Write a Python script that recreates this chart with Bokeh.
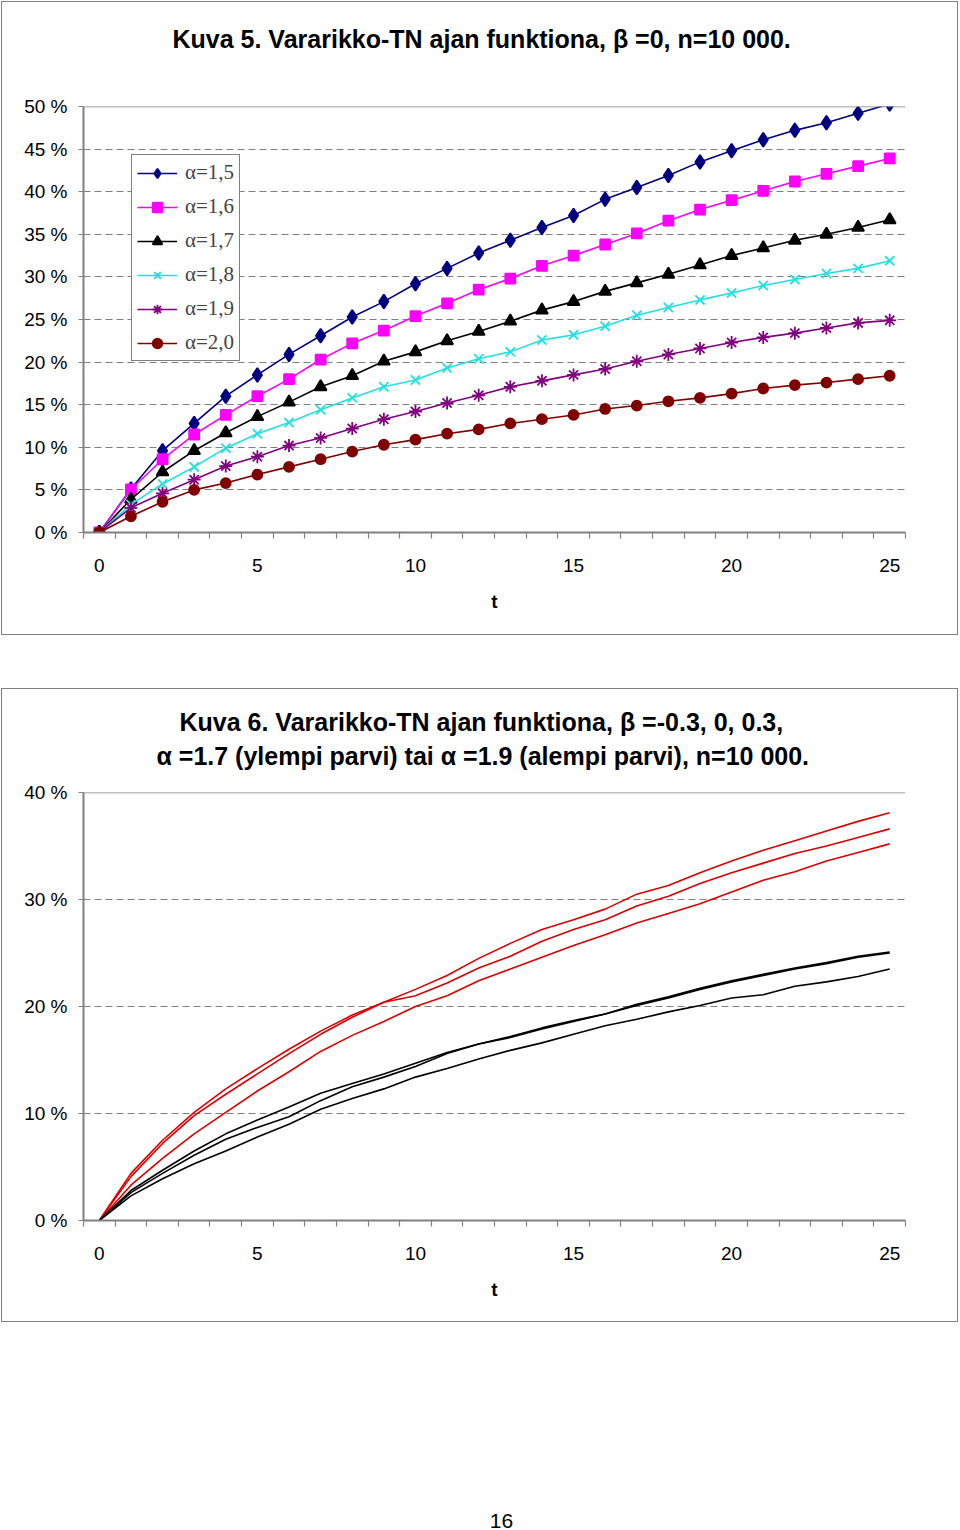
from bokeh.plotting import figure
from bokeh.models import FixedTicker, Span, Title, Div, Spacer
from bokeh.layouts import column, row
from bokeh.embed import file_html
from bokeh.resources import INLINE

# ---------------- data ----------------
t = list(range(26))

# Kuva 5 (percent)
a15 = [0, 5.1, 9.6, 12.8, 16.0, 18.5, 20.9, 23.1, 25.3, 27.1, 29.2, 31.0, 32.8, 34.3,
       35.8, 37.2, 39.1, 40.5, 41.9, 43.5, 44.8, 46.1, 47.2, 48.1, 49.2, 50.3]
a16 = [0, 5.05, 8.6, 11.5, 13.8, 16.0, 18.0, 20.3, 22.2, 23.7, 25.4, 26.9, 28.5, 29.8,
       31.3, 32.5, 33.8, 35.1, 36.6, 37.9, 39.0, 40.1, 41.2, 42.1, 43.0, 43.9]
a17 = [0, 3.9, 7.1, 9.6, 11.7, 13.6, 15.3, 17.1, 18.4, 20.1, 21.2, 22.5, 23.6, 24.8,
       26.1, 27.1, 28.3, 29.3, 30.3, 31.4, 32.5, 33.4, 34.3, 35.0, 35.8, 36.7]
a18 = [0, 3.3, 5.7, 7.7, 9.9, 11.6, 12.9, 14.4, 15.8, 17.1, 17.9, 19.3, 20.4, 21.2,
       22.6, 23.2, 24.2, 25.5, 26.4, 27.3, 28.1, 29.0, 29.7, 30.4, 31.0, 31.9]
a19 = [0, 2.9, 4.6, 6.2, 7.8, 8.9, 10.2, 11.1, 12.2, 13.3, 14.2, 15.2, 16.1, 17.1,
       17.8, 18.5, 19.2, 20.1, 20.9, 21.6, 22.3, 22.9, 23.4, 24.0, 24.6, 24.9]
a20 = [0, 1.9, 3.6, 5.0, 5.8, 6.8, 7.7, 8.6, 9.5, 10.3, 10.9, 11.6, 12.1, 12.8,
       13.3, 13.8, 14.5, 14.9, 15.4, 15.8, 16.3, 16.9, 17.3, 17.6, 18.0, 18.4]
labels5 = ["α=1,5", "α=1,6", "α=1,7", "α=1,8", "α=1,9", "α=2,0"]

# Kuva 6 (percent): alpha=1.7 (upper group), alpha=1.9 (lower group)
red_a = [0, 4.4, 7.5, 10.1, 12.3, 14.2, 16.0, 17.7, 19.2, 20.4, 21.6, 22.9, 24.5, 25.9,
         27.2, 28.1, 29.1, 30.5, 31.3, 32.5, 33.6, 34.6, 35.5, 36.4, 37.3, 38.1]
red_b = [0, 4.1, 7.2, 9.8, 11.8, 13.7, 15.6, 17.4, 19.0, 20.4, 21.0, 22.2, 23.6, 24.7,
         26.1, 27.2, 28.1, 29.4, 30.3, 31.5, 32.5, 33.4, 34.3, 35.0, 35.8, 36.6]
red_c = [0, 3.3, 5.8, 8.1, 10.1, 12.1, 13.9, 15.8, 17.3, 18.6, 20.0, 21.0, 22.4, 23.5,
         24.6, 25.7, 26.7, 27.8, 28.7, 29.6, 30.7, 31.8, 32.6, 33.6, 34.4, 35.2]
black_a = [0, 2.8, 4.7, 6.5, 8.1, 9.4, 10.6, 11.9, 12.8, 13.7, 14.7, 15.7, 16.5, 17.2,
           18.0, 18.7, 19.3, 20.2, 20.9, 21.7, 22.4, 23.0, 23.6, 24.1, 24.7, 25.1]
black_b = [0, 2.6, 4.4, 6.1, 7.6, 8.7, 9.7, 11.2, 12.5, 13.4, 14.4, 15.6, 16.5, 17.1,
           17.9, 18.6, 19.3, 20.1, 20.8, 21.6, 22.3, 22.9, 23.5, 24.0, 24.6, 25.0]
black_c = [0, 2.3, 3.9, 5.3, 6.5, 7.8, 9.0, 10.4, 11.4, 12.3, 13.4, 14.2, 15.1, 15.9,
           16.6, 17.4, 18.2, 18.8, 19.5, 20.1, 20.8, 21.1, 21.9, 22.3, 22.8, 23.5]

x_labels = [0, 5, 10, 15, 20, 25]

title5 = "Kuva 5. Vararikko-TN ajan funktiona, β =0, n=10 000."
title6a = "Kuva 6. Vararikko-TN ajan funktiona, β =-0.3, 0, 0.3,"
title6b = "α =1.7 (ylempi parvi) tai α =1.9 (alempi parvi), n=10 000."

GRAY = "#808080"
FONT = "Liberation Sans"
W = 955


def base_fig(height, ymax, ystep, btop, bbottom):
    p = figure(width=W, height=height, x_range=(-0.5, 25.5), y_range=(0, ymax),
               output_backend="svg", toolbar_location=None,
               min_border_left=81, min_border_right=52,
               min_border_top=btop, min_border_bottom=bbottom)
    p.title = None
    p.styles = {"outline": "1.5px solid #808080", "outline-offset": "0px"}
    p.outline_line_color = None
    p.xgrid.visible = False
    yt = list(range(0, ymax + 1, ystep))
    p.yaxis.ticker = FixedTicker(ticks=yt)
    p.yaxis.major_label_overrides = {v: f"{v} %" for v in yt}
    p.ygrid.ticker = FixedTicker(ticks=yt[1:-1])
    p.ygrid.grid_line_color = GRAY
    p.ygrid.grid_line_dash = "7 4"
    p.ygrid.grid_line_width = 1.2
    p.add_layout(Span(location=ymax, dimension="width", line_color=GRAY, line_width=1.5))
    p.yaxis.minor_tick_line_color = None
    p.yaxis.major_tick_out = 5
    p.yaxis.major_tick_in = 0
    p.yaxis.major_label_standoff = 11

    p.xaxis.ticker = FixedTicker(ticks=x_labels, minor_ticks=[i - 0.5 for i in range(27)])
    p.xaxis.major_tick_out = 0
    p.xaxis.major_tick_in = 0
    p.xaxis.minor_tick_out = 6
    p.xaxis.minor_tick_in = 0
    p.xaxis.major_label_standoff = 20
    p.xaxis.axis_label = "t"
    p.xaxis.axis_label_standoff = 16
    p.xaxis.axis_label_text_font = FONT
    p.xaxis.axis_label_text_font_size = "19px"
    p.xaxis.axis_label_text_font_style = "bold"
    p.xaxis.axis_label_text_color = "black"

    for ax in (p.xaxis, p.yaxis):
        ax.axis_line_color = GRAY
        ax.axis_line_width = 2
        ax.major_tick_line_color = GRAY
        ax.minor_tick_line_color = GRAY
        ax.major_tick_line_width = 1.2
        ax.minor_tick_line_width = 1.2
        ax.major_label_text_font = FONT
        ax.major_label_text_font_size = "19px"
        ax.major_label_text_color = "black"
    return p


def add_gap(p, standoff):
    # blank spacer title: keeps the real title away from the plot area
    p.add_layout(Title(text=" ", text_color="white", text_font_size="10px",
                       standoff=standoff), "above")


def add_title(p, text, standoff, offset):
    p.add_layout(Title(text=text, align="left", offset=offset, text_font=FONT,
                       text_font_size="25px", text_font_style="bold",
                       text_color="black", standoff=standoff), "above")


# ---------------- Kuva 5 ----------------
p1 = base_fig(632, 50, 5, 104, 102)
add_gap(p1, 41)
add_title(p1, title5, 0, 89)

series = [a15, a16, a17, a18, a19, a20]
colors = ["#000080", "#FF00FF", "#000000", "#22E0E0", "#800080", "#800000"]
markers = ["diamond", "square", "triangle", "x", "asterisk", "circle"]
sizes = [14, 10, 12, 13, 13, 10]
for ys, c, m, s, lab in zip(series, colors, markers, sizes, labels5):
    p1.line(t, ys, line_color=c, line_width=1.6, legend_label=lab)
    p1.scatter(t, ys, marker=m, size=s, fill_color=c, line_color=c, line_width=1.8,
               legend_label=lab)

lg = p1.legend[0]
lg.location = "top_left"
lg.margin = 48
lg.border_line_color = "black"
lg.border_line_width = 1
lg.label_text_font = "Liberation Serif"
lg.label_text_font_size = "21px"
lg.glyph_width = 40
lg.glyph_height = 24
lg.label_height = 24
lg.spacing = 9
lg.padding = 5
lg.label_standoff = 8
lg.background_fill_alpha = 1

# ---------------- Kuva 6 ----------------
p2 = base_fig(632, 40, 10, 103, 101)
add_gap(p2, 10)
add_title(p2, title6b, 0, 73)
add_title(p2, title6b and title6a, 8, 96)

for ys in (red_a, red_b, red_c):
    p2.line(t, ys, line_color="#DD0000", line_width=1.6)
for ys in (black_a, black_b, black_c):
    p2.line(t, ys, line_color="#000000", line_width=1.6)

page_no = Div(text='<div style="width:955px;box-sizing:border-box;padding-left:34px;'
                   'text-align:center;font-family:Liberation Sans,Arial,sans-serif;'
                   'font-size:21px;line-height:22px;color:black;">16</div>',
              width=W, height=22)

body = column(Spacer(height=2), p1, Spacer(height=55), p2, Spacer(height=184), page_no)
layout = row(Spacer(width=2), body)
open("out.html", "w").write(file_html(layout, INLINE))
